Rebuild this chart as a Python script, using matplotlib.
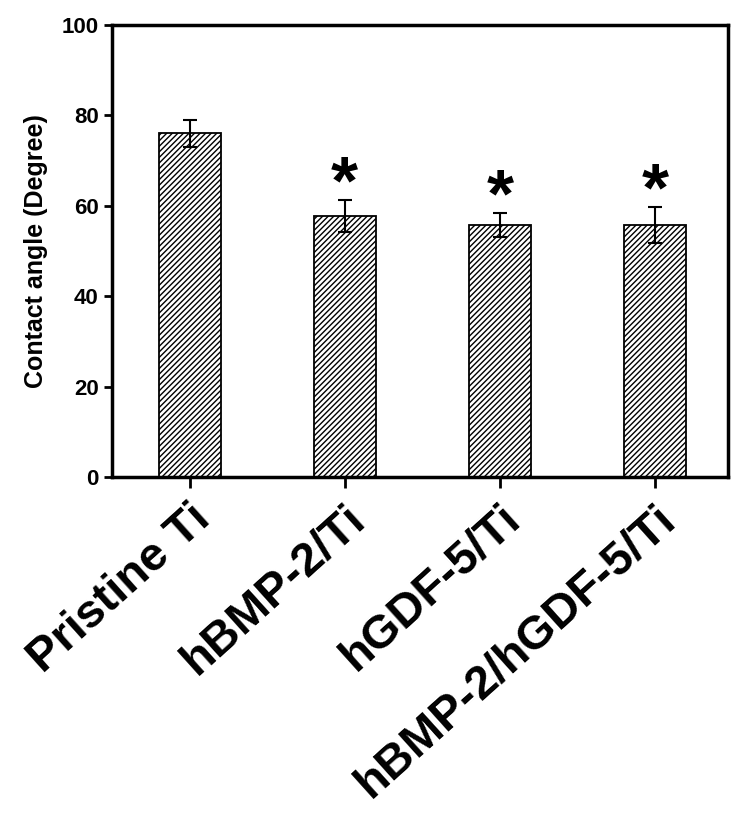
import numpy as np
import matplotlib
matplotlib.use("Agg")
import matplotlib.pyplot as plt

plt.rcParams['font.family'] = ['Liberation Sans', 'DejaVu Sans']
plt.rcParams['font.weight'] = 'bold'
plt.rcParams['hatch.linewidth'] = 1.0

groups = ['Pristine Ti', 'hBMP-2/Ti', 'hGDF-5/Ti', 'hBMP-2/hGDF-5/Ti']
contact_angle = [76.0, 57.7, 55.8, 55.8]
sd = [3.0, 3.6, 2.7, 4.0]
significant = [False, True, True, True]

fig = plt.figure(figsize=(7.43, 8.32), dpi=100)
ax = fig.add_axes([0.1507, 0.4267, 0.8291, 0.5433])

x = np.arange(len(groups))
ax.bar(x, contact_angle, width=0.4, color='white', edgecolor='black',
       linewidth=1.3, hatch='//////')
ax.errorbar(x, contact_angle, yerr=sd, fmt='none', ecolor='black',
            elinewidth=1.5, capsize=5, capthick=1.5)

# asterisk centred about 6 units above the error bar
star_fs = 50
for xi, v, s, sig in zip(x, contact_angle, sd, significant):
    if sig:
        ax.annotate('*', xy=(xi, v + s + 6), xytext=(0, -0.44 * star_fs),
                    textcoords='offset points', ha='center', va='baseline',
                    fontsize=star_fs, fontweight='bold')

ax.set_xlim(-0.5, 3.47)
ax.set_ylim(0, 100)
ax.set_yticks([0, 20, 40, 60, 80, 100])
ax.set_xticks(x)
ax.set_xticklabels(groups, rotation=42, ha='right', va='top',
                   rotation_mode='anchor', fontsize=34, fontweight='bold')
ax.tick_params(axis='y', labelsize=16, width=2, length=6, direction='out')
ax.tick_params(axis='x', width=2, length=8, direction='out', pad=6)
ax.set_ylabel('Contact angle (Degree)', fontsize=18, fontweight='bold',
              labelpad=10)

for sp in ax.spines.values():
    sp.set_linewidth(2.5)

fig.savefig('out.png', dpi=100)
